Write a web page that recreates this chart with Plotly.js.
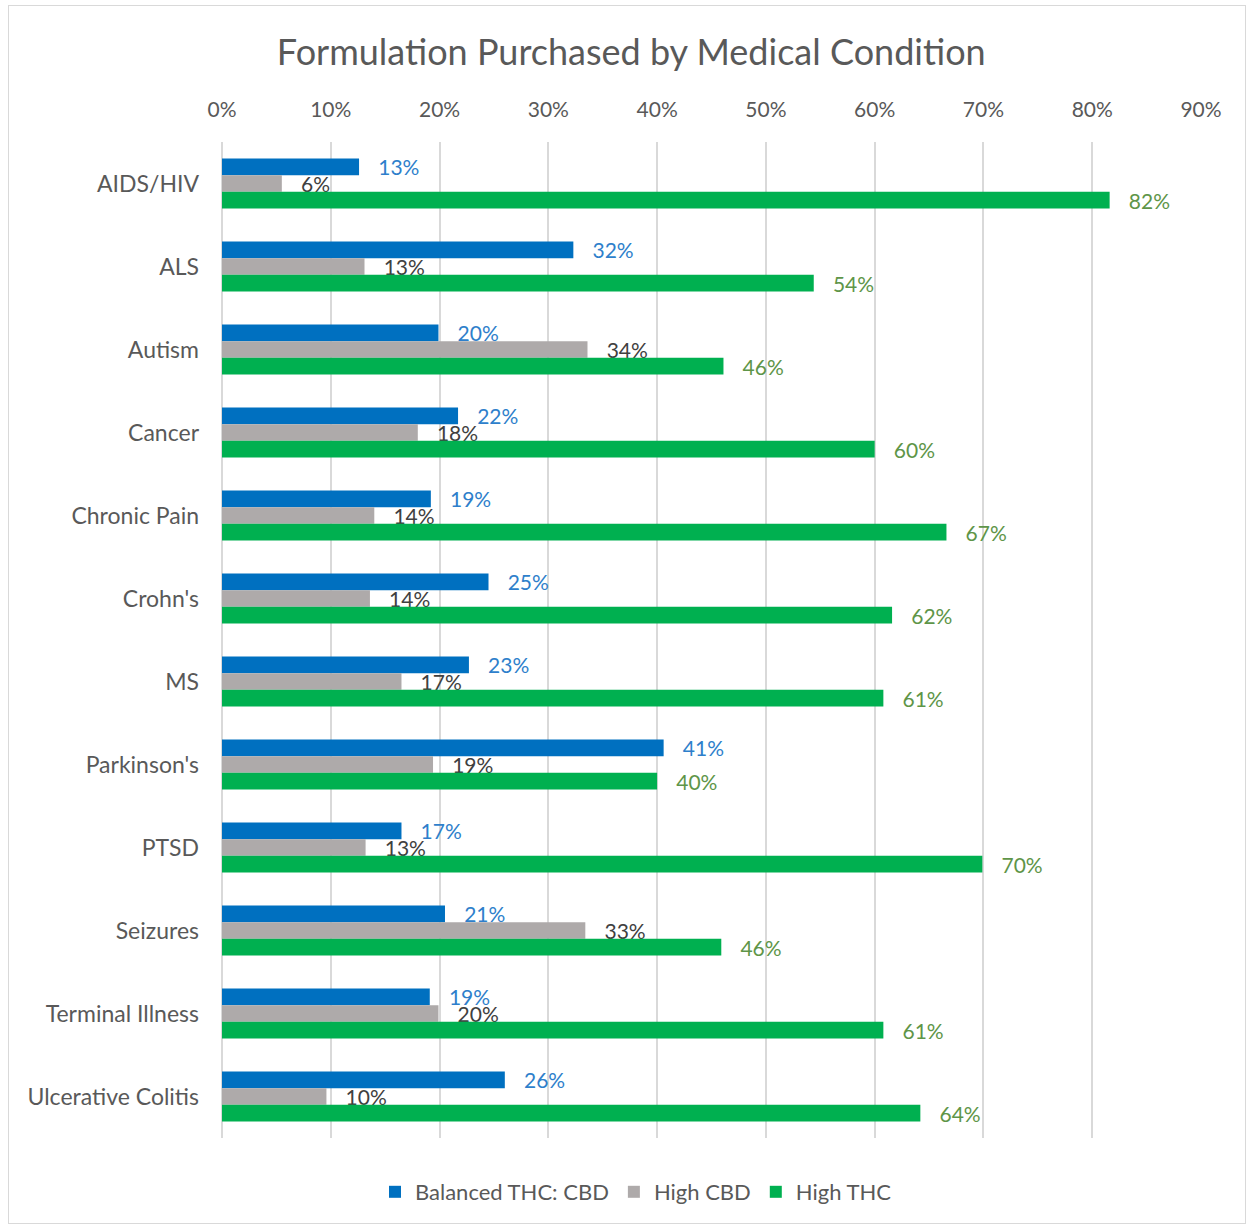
<!DOCTYPE html>
<html>
<head>
<meta charset="utf-8">
<script src="https://cdn.plot.ly/plotly-3.0.1.min.js"></script>
<style>
html,body{margin:0;padding:0;background:#fff;}
#frame{position:absolute;left:8px;top:5px;width:1238px;height:1219px;border:1.5px solid #d9d9d9;pointer-events:none;box-sizing:border-box;}
#chart{position:absolute;left:0;top:0;width:1250px;height:1228px;}
</style>
</head>
<body>
<div id="chart"></div>
<div id="frame"></div>
<script>
const categories = ["AIDS/HIV","ALS","Autism","Cancer","Chronic Pain","Crohn's","MS","Parkinson's","PTSD","Seizures","Terminal Illness","Ulcerative Colitis"];
const balanced = [0.126,0.323,0.199,0.217,0.192,0.245,0.227,0.406,0.165,0.205,0.191,0.260];
const highCBD  = [0.055,0.131,0.336,0.180,0.140,0.136,0.165,0.194,0.132,0.334,0.199,0.096];
const highTHC  = [0.816,0.544,0.461,0.600,0.666,0.616,0.608,0.400,0.699,0.459,0.608,0.642];
const seriesNames = ["Balanced THC: CBD","High CBD","High THC"];
const barColors = ["#0070C0","#AEAAAA","#00B050"];
const labelColors = ["#2E7FCB","#404040","#5E9548"];

const font = "Lato, 'Open Sans', sans-serif";
const vals = [balanced, highCBD, highTHC];
const traces = vals.map((v,i)=>({
  type:'bar', orientation:'h', name:seriesNames[i],
  y:categories, x:v,
  marker:{color:barColors[i]},
  texttemplate:'\u00a0\u00a0\u00a0%{x:.0%}',
  textposition:'outside',
  constraintext:'none',
  cliponaxis:false,
  textfont:{family:font,size:21,color:labelColors[i]},
  hoverinfo:'skip'
}));

const layout = {
  width:1250, height:1228,
  margin:{l:222,r:49,t:142,b:90, autoexpand:false},
  paper_bgcolor:'#fff', plot_bgcolor:'#fff',
  title:{text:'Formulation Purchased by Medical Condition', x:0.505, xanchor:'center', y:1-52/1228, yanchor:'middle',
         font:{family:font,size:36,color:'#595959'}},
  barmode:'group', bargap:0.4, bargroupgap:0,
  xaxis:{side:'top', range:[0,0.9], dtick:0.1, tickformat:'.0%', showgrid:true, gridcolor:'#d9d9d9', gridwidth:2,
         zeroline:true, zerolinecolor:'#d9d9d9', zerolinewidth:2, ticks:'', ticklabelstandoff:20, tickangle:0,
         tickfont:{family:font,size:21,color:'#595959'}, fixedrange:true, automargin:false},
  yaxis:{autorange:'reversed', ticks:'', ticklabelstandoff:22, showgrid:false, zeroline:false, automargin:false,
         tickfont:{family:font,size:23,color:'#595959'}},
  showlegend:true,
  legend:{orientation:'h', x:(636-222)/979, xanchor:'center', y:-(1192-1138)/996, yanchor:'middle',
          font:{family:font,size:22,color:'#595959'}, traceorder:'normal', itemwidth:30}
};
Plotly.newPlot('chart', traces, layout, {displayModeBar:false, staticPlot:true});
</script>
</body>
</html>
